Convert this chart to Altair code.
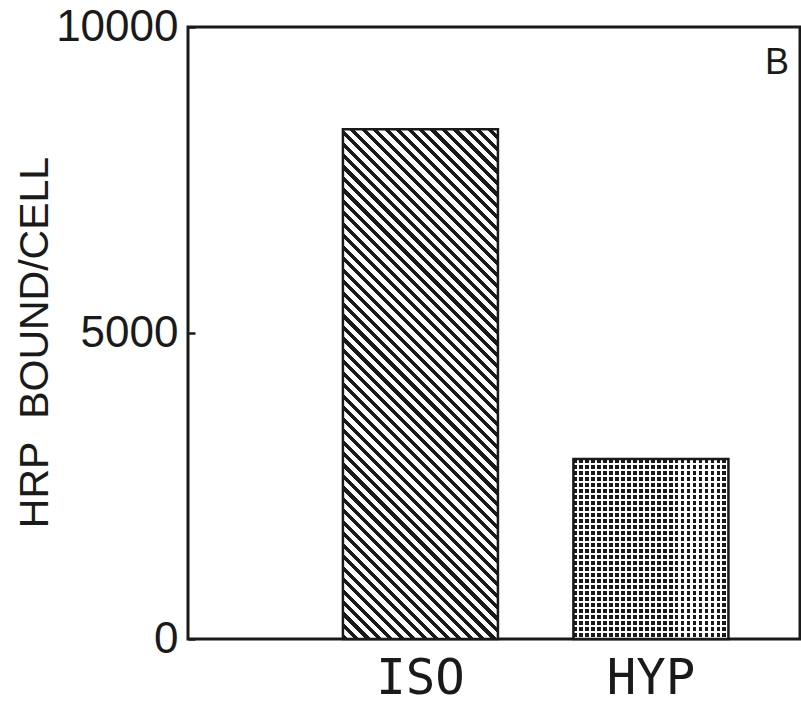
import altair as alt
import pandas as pd

categories = ["ISO", "HYP"]
values = [8330, 2940]
y_ticks = [0, 5000, 10000]
panel_label = ["B"]
y_title = "HRP\u00a0 BOUND/CELL"

W, H = 612, 612
Y_MAX = 10000
P_IN, P_OUT, ALIGN = 0.3275, 0.4913, 0.684
step = W / (len(categories) - P_IN + 2 * P_OUT)
bw = step * (1 - P_IN)
INK = "#1a1a1a"


def stripes(n, frac, on, off):
    stops = []
    for k in range(n):
        a = round(k / n, 6)
        b = round((k + frac) / n, 6)
        c = round((k + 1) / n, 6)
        stops += [
            alt.GradientStop(offset=a, color=on),
            alt.GradientStop(offset=b, color=on),
            alt.GradientStop(offset=b, color=off),
            alt.GradientStop(offset=c, color=off),
        ]
    return stops


# diagonal hatch for ISO (45 degrees, "\" direction)
h_iso = values[0] / Y_MAX * H
p = bw / (bw + h_iso)
q = -h_iso / (bw + h_iso)
s = p * p + q * q
ax, bx = p / s, q / s
n_iso = round((bw + h_iso) / 11.5)
grad_iso = alt.Gradient(
    gradient="linear", x1=0, y1=1, x2=round(ax, 6), y2=round(1 + bx, 6),
    stops=stripes(n_iso, 0.45, INK, "white"),
)

# dot screen for HYP: dark rows, then white columns on top
h_hyp = values[1] / Y_MAX * H
n_rows = round(h_hyp / 6)
n_cols = round(bw / 6)
grad_rows = alt.Gradient(
    gradient="linear", x1=0, y1=0, x2=0, y2=1,
    stops=stripes(n_rows, 0.62, INK, "white"),
)
grad_cols = alt.Gradient(
    gradient="linear", x1=0, y1=0, x2=1, y2=0,
    stops=stripes(n_cols, 0.62, "rgba(255,255,255,0)", "white"),
)

df = pd.DataFrame({"cat": categories, "val": values})

base = alt.Chart(df).encode(
    x=alt.X(
        "cat:N",
        sort=categories,
        scale=alt.Scale(domain=categories, paddingInner=P_IN, paddingOuter=P_OUT, align=ALIGN),
        axis=alt.Axis(
            title="", ticks=False, domain=False, labelAngle=0,
            labelFont="DejaVu Sans Mono", labelFontSize=49, labelColor=INK,
            labelPadding=15,
        ),
    ),
    y=alt.Y(
        "val:Q",
        scale=alt.Scale(domain=[0, Y_MAX], nice=False),
        axis=alt.Axis(
            title=y_title, values=y_ticks, format="d", grid=False, domain=False,
            offset=-7, tickSize=7, tickWidth=2.5, tickColor=INK,
            labelFont="Liberation Sans, Arial", labelFontSize=44, labelColor=INK,
            labelPadding=10,
            titleFont="Liberation Sans, Arial", titleFontSize=41,
            titleFontWeight="normal", titleColor=INK,
            titleX=-148, titleY=315, titleBaseline="alphabetic", titleAlign="center",
        ),
    ),
)

iso = base.transform_filter(alt.datum.cat == "ISO").mark_bar(
    fill=grad_iso, stroke=INK, strokeWidth=2.5
)
hyp_rows = base.transform_filter(alt.datum.cat == "HYP").mark_bar(
    fill=grad_rows, strokeWidth=0
)
hyp_cols = base.transform_filter(alt.datum.cat == "HYP").mark_bar(
    fill=grad_cols, stroke=INK, strokeWidth=2.5
)

label = alt.Chart(pd.DataFrame({"t": panel_label})).mark_text(
    font="Liberation Sans, Arial", fontSize=36, color=INK, align="left", baseline="alphabetic"
).encode(x=alt.value(577), y=alt.value(47), text="t:N")

chart = alt.layer(iso, hyp_rows, hyp_cols, label).properties(
    width=W, height=H,
    autosize=alt.AutoSizeParams(type="none"),
    padding={"left": 188, "top": 27, "right": 1, "bottom": 65},
    background="white",
).configure_view(stroke=INK, strokeWidth=3)

chart.save("out.html", embed_options={"renderer": "svg", "actions": False})
